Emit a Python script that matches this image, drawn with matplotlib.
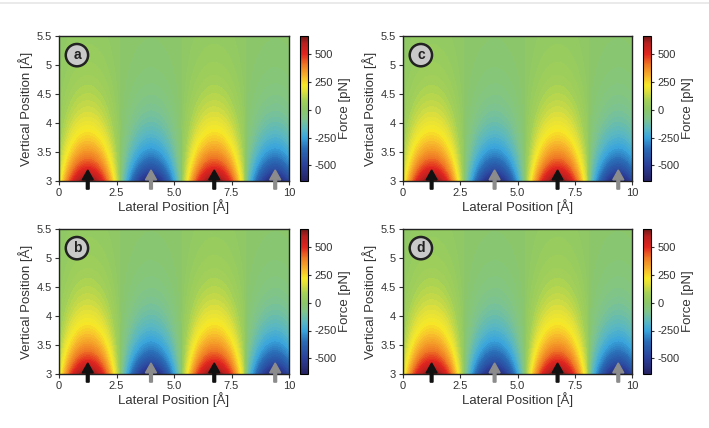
import numpy as np
import matplotlib
matplotlib.use("Agg")
import matplotlib.pyplot as plt
from matplotlib.colors import LinearSegmentedColormap, Normalize
from matplotlib.lines import Line2D

plt.rcParams['font.family'] = ['Liberation Sans', 'DejaVu Sans']
plt.rcParams['axes.unicode_minus'] = False

# ---- data ----
panel_labels = ['a', 'b', 'c', 'd']
atom_x = [1.25, 4.0, 6.75, 9.4]          # lateral atom positions [A]
atom_force = [660, -620, 660, -620]      # force at y = 3 A [pN]
atom_decay = [0.8, 0.66, 0.8, 0.66]      # vertical decay length [A]
atom_halfwidth = [1.45, 1.4, 1.45, 1.4]  # lateral half width of lobe [A]
arrow_colors = ['#111111', '#8c8c8c', '#111111', '#8c8c8c']

x_ticks = [0, 2.5, 5.0, 7.5, 10]
x_ticklabels = ['0', '2.5', '5.0', '7.5', '10']
y_ticks = [3, 3.5, 4, 4.5, 5, 5.5]
y_ticklabels = ['3', '3.5', '4', '4.5', '5', '5.5']
cbar_ticks = [-500, -250, 0, 250, 500]
vmin, vmax = -640, 660

# colour map nodes (value, colour)
cmap_values = [-640, -500, -350, -250, -170, -80, 0, 80, 170, 220, 300, 400, 500, 600, 660]
cmap_colors = ['#262262', '#2b3f99', '#2a6cb6', '#3aa5dc', '#5cb8c0', '#80c48a', '#8cc767',
               '#a3d058', '#e2e03a', '#f7e928', '#f7b52c', '#ef7a24', '#e1251f', '#b51f1f',
               '#6e1a18']

cmap = LinearSegmentedColormap.from_list(
    'force', [((v - vmin) / (vmax - vmin), c) for v, c in zip(cmap_values, cmap_colors)])
norm = Normalize(vmin=vmin, vmax=vmax)

# force field built from atom parameters
xs = np.linspace(0, 10, 400)
ys = np.linspace(3, 5.5, 250)
X, Y = np.meshgrid(xs, ys)
F = np.zeros_like(X)
for xi, a, lam, w in zip(atom_x, atom_force, atom_decay, atom_halfwidth):
    dx = np.abs(X - xi)
    lateral = np.where(dx < w, np.cos(np.pi * dx / (2 * w)), 0)
    F += a * np.exp(-(Y - 3) / lam) * lateral

W, H = 709, 428
fig = plt.figure(figsize=(W / 100, H / 100), dpi=100)
fig.add_artist(Line2D([0, 1], [1 - 3 / H, 1 - 3 / H], color='#e6e6e6', lw=1.2))

txt = '#333333'
ax_boxes = {
    'a': (59, 36, 289, 181), 'b': (59, 229, 289, 374),
    'c': (403, 36, 632, 181), 'd': (403, 229, 632, 374),
}
cbar_x = {'a': 300, 'b': 300, 'c': 643, 'd': 643}

for lab in panel_labels:
    l, t, r, b = ax_boxes[lab]
    ax = fig.add_axes([l / W, 1 - b / H, (r - l) / W, (b - t) / H])
    cs = ax.contourf(X, Y, F, levels=np.linspace(vmin, vmax, 80), cmap=cmap, norm=norm,
                     extend='both')
    ax.set_xlim(0, 10)
    ax.set_ylim(3, 5.5)
    ax.set_xticks(x_ticks)
    ax.set_xticklabels(x_ticklabels)
    ax.set_yticks(y_ticks)
    ax.set_yticklabels(y_ticklabels)
    ax.tick_params(labelsize=8, colors=txt, length=3, width=0.8, pad=2)
    ax.set_xlabel('Lateral Position [Å]', fontsize=9.5, color=txt, labelpad=1)
    ax.set_ylabel('Vertical Position [Å]', fontsize=9.5, color=txt, labelpad=3)
    for s in ax.spines.values():
        s.set_linewidth(1.0)
        s.set_color('#222222')

    for xi, col in zip(atom_x, arrow_colors):
        ax.arrow(xi, 2.86, 0, 0.33, width=0.12, head_width=0.48, head_length=0.17,
                 length_includes_head=True, color=col, clip_on=False, zorder=5)

    ax.text(0.78, 5.17, lab, fontsize=10, fontweight='bold', color='#222222',
            ha='center', va='center',
            bbox=dict(boxstyle='circle,pad=0.3', fc='#c9c9c9', ec='#222222', lw=1.8))

    cax = fig.add_axes([cbar_x[lab] / W, 1 - b / H, 8 / W, (b - t) / H])
    cb = fig.colorbar(plt.cm.ScalarMappable(norm=norm, cmap=cmap), cax=cax, ticks=cbar_ticks)
    cb.outline.set_linewidth(0.8)
    cb.ax.tick_params(labelsize=8, colors=txt, length=2.5, width=0.8, pad=2)
    cb.set_label('Force [pN]', fontsize=9.5, color=txt, labelpad=2)

fig.savefig('out.png', dpi=100)
